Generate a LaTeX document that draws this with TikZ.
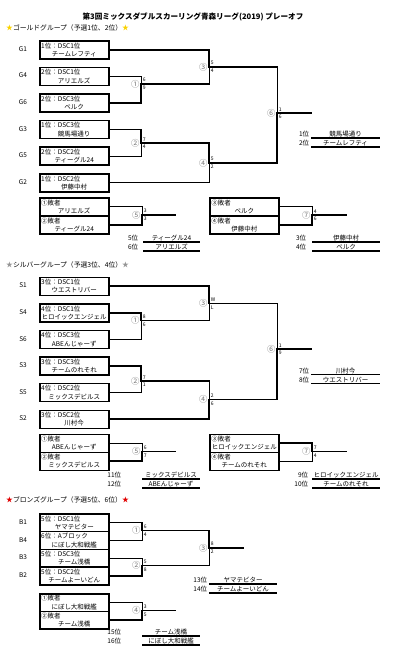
\documentclass[tikz,border=0pt]{standalone}
\usepackage{fontspec}
\setmainfont{Noto Sans CJK JP}
\definecolor{goldstar}{RGB}{250,210,0}
\definecolor{silverstar}{RGB}{150,150,150}
\definecolor{bronzestar}{RGB}{225,0,0}
\definecolor{matchgray}{RGB}{120,120,120}

\newcommand{\twoline}[2]{\makebox[66pt][l]{#1}\\\makebox[66pt][c]{#2}}

\begin{document}
\begin{tikzpicture}[x=1pt, y=-1pt,
    team/.style={draw, line width=1.5pt, minimum width=69, minimum height=18, inner sep=0pt, anchor=north west, align=center, font=\fontsize{6.5}{8.3}\selectfont},
    tag/.style={inner sep=0pt, font=\fontsize{6.5}{7}\selectfont},
    win/.style={line width=1.7pt, line cap=rect},
    lose/.style={line width=0.6pt},
    mnum/.style={anchor=east, inner sep=0pt, xshift=-1.4pt, text=matchgray, font=\fontsize{8.4}{9}\selectfont},
    score/.style={inner xsep=0.2pt, inner ysep=0.2pt, xshift=1.5pt, font=\fontsize{5}{5}\selectfont},
    rank/.style={anchor=south east, inner sep=0.6pt, font=\fontsize{6.5}{7}\selectfont},
    res/.style={anchor=south, inner sep=0.6pt, font=\fontsize{6.5}{7}\selectfont},
    uline/.style={line width=1.2pt},
    grp/.style={anchor=west, inner sep=0pt, font=\fontsize{6.8}{8}\selectfont}]
    \useasboundingbox (0,0) rectangle (400,654);

    % Title
    \node[font=\fontsize{7.6}{9}\selectfont\bfseries] (title) at (193,17) {第3回ミックスダブルスカーリング青森リーグ(2019)\ プレーオフ};

    % ---------------- Gold ----------------
    \node[grp] (hgold) at (6,28) {\textcolor{goldstar}{★}ゴールドグループ（予選1位、2位）\textcolor{goldstar}{★}};

    \foreach \id/\row/\ta/\tb in {1/0/1位：DSC1位/チームレフティ, 4/1/2位：DSC1位/アリエルズ, 6/2/2位：DSC3位/ベルク, 3/3/1位：DSC3位/競馬場通り, 5/4/2位：DSC2位/ティーグル24, 2/5/1位：DSC2位/伊藤中村} {
        \node[team] (g\id) at (39,40+26.6*\row) {\twoline{\ta}{\tb}};
        \node[tag] (gt\id) at (23,49+26.6*\row) {G\id};
    }

    \coordinate (gm1) at (141,84);
    \coordinate (gm2) at (141,143);
    \coordinate (gm3) at (209,67);
    \coordinate (gm4) at (209,163);
    \coordinate (gm6) at (277,113);
    \coordinate (ge6) at (311,113);

    \draw[lose] (g4.east) -| (gm1);
    \draw[lose] (g5.east) -| (gm2);
    \draw[lose] (g2.east) -| (gm4);
    \draw[lose] (gm1 -| gm3) -- (gm3);
    \draw[lose] (gm3 -| gm6) -- (gm6);
    \draw[win] (g6.east) -| (gm1);
    \draw[win] (g3.east) -| (gm2);
    \draw[win] (g1.east) -| (gm3);
    \draw[win] (gm1) -- (gm1 -| gm3);
    \draw[win] (gm2) -| (gm4);
    \draw[win] (gm3) -- (gm3 -| gm6);
    \draw[win] (gm4) -| (gm6);
    \draw[win] (gm6) -- (ge6);

    % Gold losers
    \node[team] (gl1) at (39,197) {\twoline{①敗者}{アリエルズ}};
    \node[team] (gl2) at (39,215) {\twoline{②敗者}{ティーグル24}};
    \node[team] (gl3) at (209,197) {\twoline{③敗者}{ベルク}};
    \node[team] (gl4) at (209,215) {\twoline{④敗者}{伊藤中村}};
    \coordinate (gm5) at (142,215);
    \coordinate (ge5) at (175,215);
    \coordinate (gm7) at (312,215);
    \coordinate (ge7) at (346,215);
    \draw[lose] (gl1.east) -| (gm5);
    \draw[lose] (gl3.east) -| (gm7);
    \draw[win] (gl2.east) -| (gm5);
    \draw[win] (gl4.east) -| (gm7);
    \draw[win] (gm5) -- (ge5);
    \draw[win] (gm7) -- (ge7);

    \foreach \mt/\cn/\sca/\scb in {gm1/①/6/9, gm2/②/7/4, gm3/③/5/4, gm4/④/5/2, gm6/⑥/1/6, gm5/⑤/3/3, gm7/⑦/4/6} {
        \node[mnum] (n\mt) at (\mt) {\cn};
        \node[score, anchor=south west] (a\mt) at ([yshift=1.6pt]\mt) {\sca};
        \node[score, anchor=north west] (b\mt) at ([yshift=-1.6pt]\mt) {\scb};
    }

    \foreach \rnk/\lx/\nm/\xa/\xb/\y in {1/310/競馬場通り/311/380/138, 2/310/チームレフティ/311/380/147, 5/139/ティーグル24/143/200/242, 6/139/アリエルズ/143/200/251, 3/307/伊藤中村/312/380/242, 4/307/ベルク/312/380/251} {
        \node[rank] (rk\rnk) at (\lx,\y) {\rnk 位};
        \node[res] (rn\rnk) at ({(\xa+\xb)/2},\y) {\nm};
        \draw[uline] (\xa,\y) -- (\xb,\y);
    }

    % ---------------- Silver ----------------
    \node[grp] (hsilver) at (6,265) {\textcolor{silverstar}{★}シルバーグループ（予選3位、4位）\textcolor{silverstar}{★}};

    \foreach \id/\row/\ta/\tb in {1/0/3位：DSC1位/ウエストリバー, 4/1/4位：DSC1位/ヒロイックエンジェル, 6/2/4位：DSC3位/ABEんじゃーず, 3/3/3位：DSC3位/チームのれそれ, 5/4/4位：DSC2位/ミックスデビルス, 2/5/3位：DSC2位/川村今} {
        \node[team] (s\id) at (39,276.5+26.6*\row) {\twoline{\ta}{\tb}};
        \node[tag] (st\id) at (23,285.5+26.6*\row) {S\id};
    }

    \coordinate (sm1) at (141,320.5);
    \coordinate (sm2) at (141,381);
    \coordinate (sm3) at (209,303.5);
    \coordinate (sm4) at (209,399.5);
    \coordinate (sm6) at (277,349);
    \coordinate (se6) at (311,349);

    \draw[lose] (s6.east) -| (sm1);
    \draw[lose] (s5.east) -| (sm2);
    \draw[lose] (sm1 -| sm3) -- (sm3);
    \draw[lose] (sm2 -| sm4) -- (sm4);
    \draw[lose] (sm3 -| sm6) -- (sm6);
    \draw[win] (s4.east) -| (sm1);
    \draw[win] (s3.east) -| (sm2);
    \draw[win] (s1.east) -| (sm3);
    \draw[win] (s2.east) -| (sm4);
    \draw[win] (sm1) -- (sm1 -| sm3);
    \draw[win] (sm2) -- (sm2 -| sm4);
    \draw[win] (sm3) -- (sm3 -| sm6);
    \draw[win] (sm4) -| (sm6);
    \draw[win] (sm6) -- (se6);

    % Silver losers
    \node[team] (sl1) at (39,433.5) {\twoline{①敗者}{ABEんじゃーず}};
    \node[team] (sl2) at (39,451.5) {\twoline{②敗者}{ミックスデビルス}};
    \node[team] (sl3) at (209,433.5) {\twoline{③敗者}{ヒロイックエンジェル}};
    \node[team] (sl4) at (209,451.5) {\twoline{④敗者}{チームのれそれ}};
    \coordinate (sm5) at (142,451.5);
    \coordinate (se5) at (175,451.5);
    \coordinate (sm7) at (312,451.5);
    \coordinate (se7) at (346,451.5);
    \draw[lose] (sl1.east) -| (sm5);
    \draw[lose] (sl4.east) -| (sm7);
    \draw[win] (sl2.east) -| (sm5);
    \draw[win] (sl3.east) -| (sm7);
    \draw[win] (sm5) -- (se5);
    \draw[win] (sm7) -- (se7);

    \foreach \mt/\cn/\sca/\scb in {sm1/①/8/6, sm2/②/7/1, sm3/③/W/L, sm4/④/2/6, sm6/⑥/1/9, sm5/⑤/6/7, sm7/⑦/7/4} {
        \node[mnum] (n\mt) at (\mt) {\cn};
        \node[score, anchor=south west] (a\mt) at ([yshift=1.6pt]\mt) {\sca};
        \node[score, anchor=north west] (b\mt) at ([yshift=-1.6pt]\mt) {\scb};
    }

    \foreach \rnk/\lx/\nm/\xa/\xb/\y in {7/310/川村今/311/380/374.5, 8/310/ウエストリバー/311/380/383.5, 11/122/ミックスデビルス/142/200/479, 12/122/ABEんじゃーず/142/200/488, 9/309/ヒロイックエンジェル/312/380/479, 10/309/チームのれそれ/312/380/488} {
        \node[rank] (rk\rnk) at (\lx,\y) {\rnk 位};
        \node[res] (rn\rnk) at ({(\xa+\xb)/2},\y) {\nm};
        \draw[uline] (\xa,\y) -- (\xb,\y);
    }

    % ---------------- Bronze ----------------
    \node[grp] (hbronze) at (6,500) {\textcolor{bronzestar}{★}ブロンズグループ（予選5位、6位）\textcolor{bronzestar}{★}};

    \foreach \id/\row/\ta/\tb in {1/0/5位：DSC1位/ヤマテビター, 4/1/6位：Aブロック/にぼし大和戦艦, 3/2/5位：DSC3位/チーム浅橋, 2/3/5位：DSC2位/チームよーいどん} {
        \node[team, minimum height=17.75] (b\id) at (39,513+17.75*\row) {\twoline{\ta}{\tb}};
        \node[tag] (bt\id) at (23,522+17.75*\row) {B\id};
    }

    \coordinate (bm1) at (142,530.5);
    \coordinate (bm2) at (142,565.5);
    \coordinate (bm3) at (209,548);
    \coordinate (be3) at (243,548);

    \draw[lose] (b4.east) -| (bm1);
    \draw[lose] (b3.east) -| (bm2);
    \draw[lose] (bm2 -| bm3) -- (bm3);
    \draw[win] (b1.east) -| (bm1);
    \draw[win] (b2.east) -| (bm2);
    \draw[win] (bm1) -| (bm3);
    \draw[win] (bm2) -- (bm2 -| bm3);
    \draw[win] (bm3) -- (be3);

    % Bronze losers
    \node[team, minimum height=17.5] (bl1) at (39,593) {\twoline{①敗者}{にぼし大和戦艦}};
    \node[team, minimum height=17.5] (bl2) at (39,610.5) {\twoline{②敗者}{チーム浅橋}};
    \coordinate (bm4) at (142,610.5);
    \coordinate (be4) at (175,610.5);
    \draw[lose] (bl1.east) -| (bm4);
    \draw[win] (bl2.east) -| (bm4);
    \draw[win] (bm4) -- (be4);

    \foreach \mt/\cn/\sca/\scb in {bm1/①/6/4, bm2/②/5/8, bm3/③/8/2, bm4/④/3/5} {
        \node[mnum] (n\mt) at (\mt) {\cn};
        \node[score, anchor=south west] (a\mt) at ([yshift=1.6pt]\mt) {\sca};
        \node[score, anchor=north west] (b\mt) at ([yshift=-1.6pt]\mt) {\scb};
    }

    \foreach \rnk/\lx/\nm/\xa/\xb/\y in {13/208/ヤマテビター/209/277/584, 14/208/チームよーいどん/209/277/593, 15/122/チーム浅橋/142/200/636, 16/122/にぼし大和戦艦/142/200/645} {
        \node[rank] (rk\rnk) at (\lx,\y) {\rnk 位};
        \node[res] (rn\rnk) at ({(\xa+\xb)/2},\y) {\nm};
        \draw[uline] (\xa,\y) -- (\xb,\y);
    }
\end{tikzpicture}
\end{document}
